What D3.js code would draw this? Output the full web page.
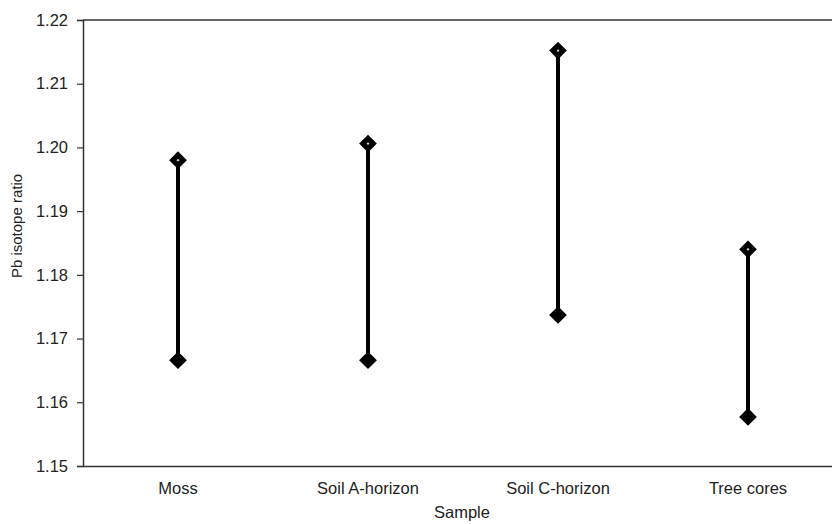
<!DOCTYPE html>
<html>
<head>
<meta charset="utf-8">
<script src="https://cdn.jsdelivr.net/npm/d3@7/dist/d3.min.js"></script>
<style>
  html, body { margin: 0; padding: 0; background: #fff; }
  svg { display: block; }
  text { font-family: "Liberation Sans", Arial, sans-serif; fill: #222; }
</style>
</head>
<body>
<svg id="chart" width="832" height="524"></svg>
<script>
// Pb isotope ratio range (min to max) per sample type
const categories = ["Moss", "Soil A-horizon", "Soil C-horizon", "Tree cores"];
const lowValues  = [1.1666, 1.1666, 1.1737, 1.1577];
const highValues = [1.1980, 1.2006, 1.2152, 1.1840];
const yTicks = [1.15, 1.16, 1.17, 1.18, 1.19, 1.20, 1.21, 1.22];

const svg = d3.select("#chart");
const W = 832, H = 524;
const plot = { left: 83, top: 20, right: 843, bottom: 466 };

const x = d3.scaleBand().domain(categories).range([plot.left, plot.right]);
const y = d3.scaleLinear().domain([1.15, 1.22]).range([plot.bottom, plot.top]);

const axisColor = "#333";
const fontSize = "16.5px";

// top frame line
svg.append("line")
  .attr("x1", plot.left).attr("x2", W)
  .attr("y1", y(1.22)).attr("y2", y(1.22))
  .attr("stroke", axisColor).attr("stroke-width", 1.5);

// y axis
const yAxis = svg.append("g")
  .attr("transform", `translate(${plot.left},0)`)
  .call(d3.axisLeft(y).tickValues(yTicks).tickFormat(d3.format(".2f")).tickSize(6).tickPadding(9));
yAxis.select(".domain").attr("stroke", axisColor).attr("stroke-width", 1.5);
yAxis.selectAll(".tick line").attr("stroke", axisColor).attr("stroke-width", 1.2);
yAxis.selectAll("text").style("font-size", fontSize).attr("fill", "#222");

// x axis
const xAxis = svg.append("g")
  .attr("transform", `translate(0,${plot.bottom})`)
  .call(d3.axisBottom(x).tickSize(0).tickPadding(16));
xAxis.select(".domain").attr("stroke", axisColor).attr("stroke-width", 1.5);
xAxis.selectAll("text").style("font-size", fontSize).attr("fill", "#222");

// axis titles
svg.append("text")
  .attr("transform", `translate(22,226) rotate(-90)`)
  .attr("text-anchor", "middle")
  .style("font-size", "15px")
  .text("Pb isotope ratio");

svg.append("text")
  .attr("x", 462)
  .attr("y", 518)
  .attr("text-anchor", "middle")
  .style("font-size", fontSize)
  .text("Sample");

// range lines + diamond markers
const data = categories.map((c, i) => ({ c, lo: lowValues[i], hi: highValues[i] }));
const cx = d => x(d.c) + x.bandwidth() / 2;
const g = svg.append("g");

g.selectAll("line.range").data(data).join("line")
  .attr("class", "range")
  .attr("x1", cx).attr("x2", cx)
  .attr("y1", d => y(d.lo)).attr("y2", d => y(d.hi))
  .attr("stroke", "#000").attr("stroke-width", 4);

const diamond = d3.symbol().type(d3.symbolDiamond2).size(200);
["lo", "hi"].forEach(k => {
  g.selectAll(`path.m-${k}`).data(data).join("path")
    .attr("class", `m-${k}`)
    .attr("transform", d => `translate(${cx(d)},${y(d[k])})`)
    .attr("d", diamond)
    .attr("fill", "#000");
});

// small light centre on the upper markers
g.selectAll("circle.dot").data(data).join("circle")
  .attr("class", "dot")
  .attr("cx", cx).attr("cy", d => y(d.hi))
  .attr("r", 1.2).attr("fill", "#ccc");
</script>
</body>
</html>
